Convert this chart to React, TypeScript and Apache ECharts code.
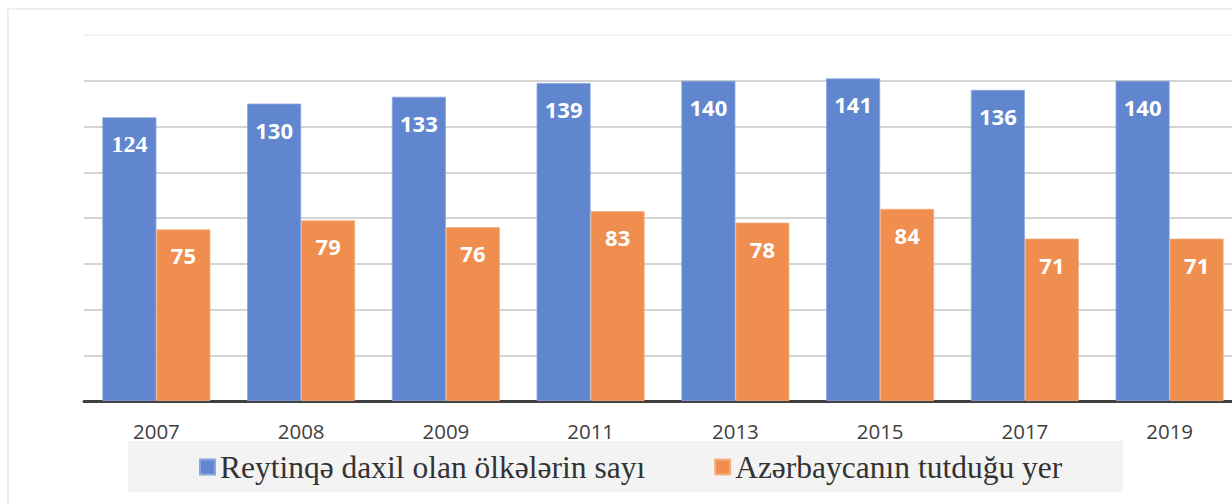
import React, { useEffect, useRef } from "react";
import * as echarts from "echarts";

const categories = ["2007", "2008", "2009", "2011", "2013", "2015", "2017", "2019"];
const countriesInRanking = [124, 130, 133, 139, 140, 141, 136, 140];
const azerbaijanPlace = [75, 79, 76, 83, 78, 84, 71, 71];
const seriesNames = ["Reytinqə daxil olan ölkələrin sayı", "Azərbaycanın tutduğu yer"];

const BLUE = "#5f86cf";
const ORANGE = "#ef8e4f";

export default function App() {
  const ref = useRef<HTMLDivElement>(null);
  useEffect(() => {
    if (!ref.current) return;
    const chart = echarts.init(ref.current, undefined, { renderer: "svg" });
    const labelBase = {
      show: true,
      position: "insideTop",
      distance: 15,
      color: "#ffffff",
      fontSize: 22,
      fontWeight: "bold",
      fontFamily: "Open Sans",
    };
    chart.setOption({
      animation: false,
      backgroundColor: "#ffffff",
      graphic: [
        {
          type: "rect",
          silent: true,
          z: -10,
          shape: { x: 8, y: 9, width: 1400, height: 600 },
          style: { fill: "none", stroke: "#e8ebf0", lineWidth: 1.5 },
        },
        {
          type: "rect",
          silent: true,
          z: -5,
          shape: { x: 128, y: 441, width: 995, height: 51 },
          style: { fill: "#f3f3f3" },
        },
      ],
      grid: { left: 84, top: 35, width: 1158, height: 366 },
      xAxis: {
        type: "category",
        data: categories,
        axisLine: { show: true, lineStyle: { color: "#404040", width: 3 } },
        axisTick: { show: false },
        axisLabel: { color: "#404040", fontSize: 20.5, fontFamily: "Open Sans", margin: 19 },
      },
      yAxis: {
        type: "value",
        min: 0,
        max: 160,
        interval: 20,
        axisLabel: { show: false },
        axisLine: { show: false },
        axisTick: { show: false },
        splitLine: {
          lineStyle: {
            color: ["#d4d4d4", "#d4d4d4", "#d4d4d4", "#d4d4d4", "#d4d4d4", "#d4d4d4", "#d4d4d4", "#d4d4d4", "#f2f4f7"],
            width: 2,
          },
        },
      },
      legend: {
        left: 194,
        top: 446,
        itemWidth: 15,
        itemHeight: 15,
        itemGap: 69,
        icon: "rect",
        textStyle: { fontSize: 31.5, fontFamily: "Liberation Serif", color: "#333333" },
        data: seriesNames,
      },
      series: [
        {
          name: seriesNames[0],
          type: "bar",
          barWidth: 54,
          barGap: "0%",
          itemStyle: { color: BLUE, borderColor: "#8aa6dc", borderWidth: 0.8 },
          label: labelBase,
          data: countriesInRanking.map((v, i) =>
            i === 0 ? { value: v, label: { fontFamily: "Liberation Serif", fontSize: 24 } } : v
          ),
        },
        {
          name: seriesNames[1],
          type: "bar",
          barWidth: 54,
          barGap: "0%",
          itemStyle: { color: ORANGE, borderColor: "#f5b183", borderWidth: 0.8 },
          label: labelBase,
          data: azerbaijanPlace,
        },
      ],
    });
    return () => chart.dispose();
  }, []);
  return (
    <div style={{ position: "absolute", left: 0, top: 0, width: 1232, height: 504, overflow: "hidden" }}>
      <div ref={ref} style={{ width: 1300, height: 504 }} />
    </div>
  );
}
